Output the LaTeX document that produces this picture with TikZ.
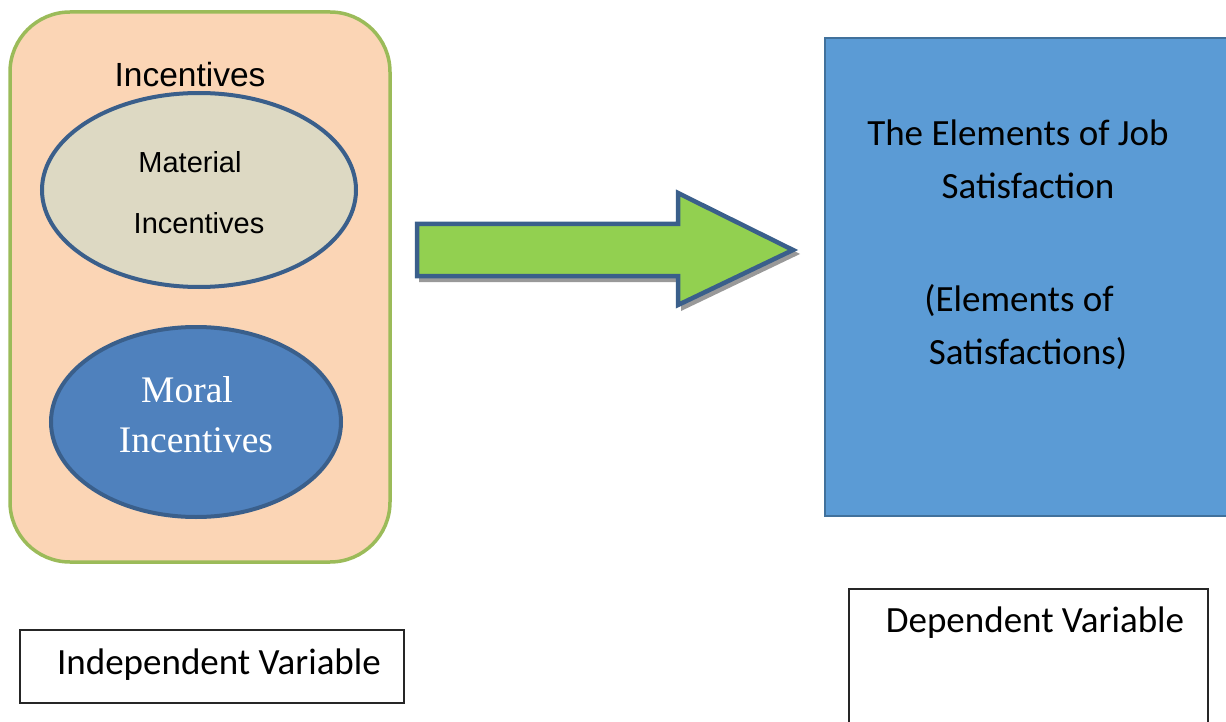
\documentclass[tikz,border=0pt]{standalone}
\usepackage{fontspec}
\setmainfont{Liberation Sans}
\newfontfamily\timesf{Liberation Serif}
\newfontfamily\calf{Carlito}
\usetikzlibrary{shapes.geometric}
\definecolor{peach}{HTML}{FBD5B5}
\definecolor{olivegreen}{HTML}{9BBB59}
\definecolor{beige}{HTML}{DDD9C3}
\definecolor{darkblue}{HTML}{3A5F8B}
\definecolor{midblue}{HTML}{4F81BD}
\definecolor{skyblue}{HTML}{5B9BD5}
\definecolor{skyborder}{HTML}{41719C}
\definecolor{arrowgreen}{HTML}{92D050}
\tikzset{
  ovalbox/.style={ellipse, draw=darkblue, line width=4pt, inner sep=0pt},
  lbl/.style={inner sep=0pt, anchor=center},
  varbox/.style={draw=black!85, line width=1.2pt, fill=white}
}
\begin{document}
\begin{tikzpicture}[x=1pt,y=-1pt]
\useasboundingbox (0,0) rectangle (1226,722);
\clip (0,0) rectangle (1226,722);
% left container
\draw[olivegreen, fill=peach, line width=3.5pt, rounded corners=60pt] (10,12) rectangle (390,562);
\node[lbl] (inc) at (190,75) {\fontsize{33.5}{38}\selectfont Incentives};
% ellipses
\node[ovalbox, fill=beige, minimum width=314pt, minimum height=194pt] (mat) at (199,190) {};
\node[lbl] (mat1) at (190,162) {\fontsize{29}{34}\selectfont Material};
\node[lbl] (mat2) at (199,223) {\fontsize{29}{34}\selectfont Incentives};
\node[ovalbox, fill=midblue, minimum width=290pt, minimum height=190pt] (mor) at (196,422) {};
\node[lbl, white] (mor1) at (187,390) {\timesf\fontsize{37.5}{42}\selectfont Moral};
\node[lbl, white] (mor2) at (196,440) {\timesf\fontsize{37.5}{42}\selectfont Incentives};
% arrow shadow
\fill[black!40] (419,226) -- (681,226) -- (681,194) -- (800,254) -- (681,311) -- (681,282) -- (419,282) -- cycle;
% arrow
\draw[darkblue, fill=arrowgreen, line width=4.5pt, line join=miter]
  (417,224) -- (678,224) -- (678,193) -- (793,250) -- (678,305) -- (678,276) -- (417,276) -- cycle;
% dependent box
\draw[skyborder, fill=skyblue, line width=1.5pt] (825,38) rectangle (1240,516);
\node[lbl] (t1) at (1018,133) {\calf\fontsize{37}{42}\selectfont The Elements of Job};
\node[lbl] (t2) at (1028,186) {\calf\fontsize{37}{42}\selectfont Satisfaction};
\node[lbl] (t3) at (1019,301) {\calf\fontsize{37}{42}\selectfont (Elements of};
\node[lbl] (t4) at (1028,354) {\calf\fontsize{37}{42}\selectfont Satisfactions)};
% variable boxes
\draw[varbox] (20,630) rectangle (404,703);
\node[lbl] (iv) at (219,665) {\calf\fontsize{37}{42}\selectfont Independent Variable};
\draw[varbox] (849,589) rectangle (1208,740);
\node[lbl] (dv) at (1035,623) {\calf\fontsize{37}{42}\selectfont Dependent Variable};
\end{tikzpicture}
\end{document}
